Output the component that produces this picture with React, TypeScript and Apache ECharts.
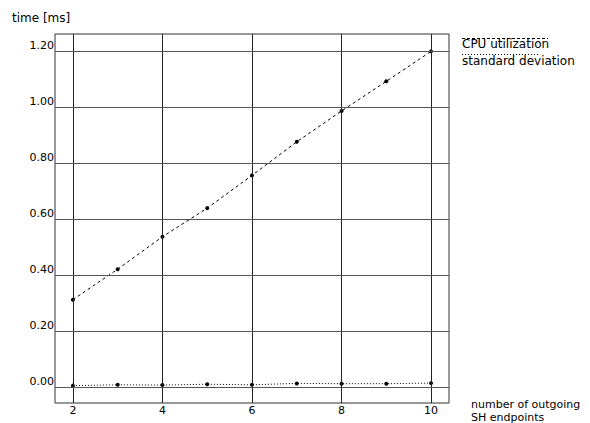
import React, { useEffect, useRef } from "react";
import * as echarts from "echarts";

const xValues = [2, 3, 4, 5, 6, 7, 8, 9, 10];
const cpuUtilization = [0.312, 0.421, 0.537, 0.639, 0.756, 0.876, 0.986, 1.092, 1.199];
const standardDeviation = [0.005, 0.008, 0.007, 0.01, 0.008, 0.013, 0.012, 0.012, 0.014];
const xTicks = [2, 4, 6, 8, 10];
const yTicks = [0, 0.2, 0.4, 0.6, 0.8, 1.0, 1.2];
const seriesNames = ["CPU utilization", "standard deviation"];
const yAxisTitle = "time [ms]";
const xAxisTitleLines = ["number of outgoing", "SH endpoints"];

const FONT = "DejaVu Sans";

export default function App() {
  const ref = useRef<HTMLDivElement>(null);

  useEffect(() => {
    document.body.style.margin = "0";
    const chart = echarts.init(ref.current!, null, { renderer: "svg" });
    const pts = (vals: number[]) => xValues.map((x, i) => [x, vals[i]]);

    chart.setOption({
      animation: false,
      backgroundColor: "#fff",
      textStyle: { fontFamily: FONT, color: "#000" },
      title: {
        text: yAxisTitle,
        left: 12,
        top: 12,
        padding: 0,
        textStyle: { fontFamily: FONT, fontSize: 12, fontWeight: "normal", color: "#000" },
      },
      grid: {
        left: 55,
        right: 141,
        top: 34,
        bottom: 20,
        show: true,
        borderColor: "#333",
        borderWidth: 1,
        backgroundColor: "transparent",
      },
      xAxis: {
        type: "value",
        min: 1.6,
        max: 10.4,
        axisLine: { show: false },
        axisTick: { show: false },
        splitLine: { show: false },
        axisLabel: {
          customValues: xTicks,
          margin: 2,
          fontFamily: FONT,
          fontSize: 11,
          color: "#000",
        },
      },
      yAxis: {
        type: "value",
        min: -0.057,
        max: 1.261,
        axisLine: { show: false },
        axisTick: { show: false },
        splitLine: { show: false },
        axisLabel: {
          customValues: yTicks,
          margin: 1,
          fontFamily: FONT,
          fontSize: 11,
          color: "#000",
          verticalAlign: "bottom",
          formatter: (v: number) => v.toFixed(2),
        },
      },
      graphic: [
        {
          type: "line",
          shape: { x1: 462, y1: 38.5, x2: 548, y2: 38.5 },
          style: { stroke: "#000", lineWidth: 1, lineDash: [3, 2] },
          z: 10,
        },
        {
          type: "text",
          x: 462,
          y: 43.5,
          style: {
            text: seriesNames[0],
            fontFamily: FONT,
            fontSize: 12,
            fill: "#000",
            verticalAlign: "middle",
            align: "left",
          },
          z: 9,
        },
        {
          type: "line",
          shape: { x1: 462, y1: 54.5, x2: 540, y2: 54.5 },
          style: { stroke: "#000", lineWidth: 1, lineDash: [1, 2] },
          z: 10,
        },
        {
          type: "text",
          x: 462,
          y: 60.5,
          style: {
            text: seriesNames[1],
            fontFamily: FONT,
            fontSize: 12,
            fill: "#000",
            verticalAlign: "middle",
            align: "left",
          },
          z: 9,
        },
        {
          type: "text",
          x: 471,
          y: 404.5,
          style: {
            text: xAxisTitleLines[0],
            fontFamily: FONT,
            fontSize: 11,
            fill: "#000",
            verticalAlign: "middle",
            align: "left",
          },
          z: 9,
        },
        {
          type: "text",
          x: 471,
          y: 417,
          style: {
            text: xAxisTitleLines[1],
            fontFamily: FONT,
            fontSize: 11,
            fill: "#000",
            verticalAlign: "middle",
            align: "left",
          },
          z: 9,
        },
      ],
      series: [
        {
          name: "grid",
          type: "line",
          data: [],
          z: 1,
          silent: true,
          markLine: {
            silent: true,
            symbol: "none",
            animation: false,
            label: { show: false },
            data: [
              ...xTicks.map((x) => ({ xAxis: x, lineStyle: { color: "#222", width: 1, type: "solid" } })),
              ...yTicks.map((y) => ({ yAxis: y, lineStyle: { color: "#555", width: 1, type: "solid" } })),
            ],
          },
        },
        {
          name: seriesNames[1],
          type: "line",
          data: pts(standardDeviation),
          z: 3,
          symbol: "circle",
          symbolSize: 4,
          itemStyle: { color: "#000" },
          lineStyle: { color: "#000", width: 1, type: [1, 2] },
        },
        {
          name: seriesNames[0],
          type: "line",
          data: pts(cpuUtilization),
          z: 4,
          symbol: "circle",
          symbolSize: 4,
          itemStyle: { color: "#000" },
          lineStyle: { color: "#000", width: 1, type: [3, 3] },
        },
      ],
    });

    return () => chart.dispose();
  }, []);

  return <div ref={ref} style={{ width: 590, height: 423 }} />;
}
